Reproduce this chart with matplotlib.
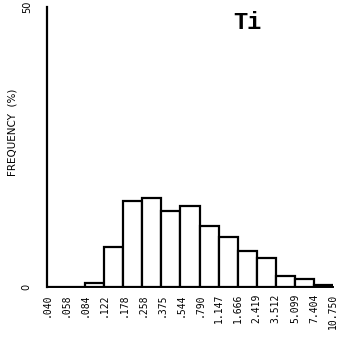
import matplotlib
matplotlib.use("Agg")
import matplotlib.pyplot as plt
import numpy as np

# bin edges (class limits) and frequencies in percent
edges = [0.040, 0.058, 0.084, 0.122, 0.178, 0.258, 0.375, 0.544, 0.790,
         1.147, 1.666, 2.419, 3.512, 5.099, 7.404, 10.750]
edge_labels = ['.040', '.058', '.084', '.122', '.178', '.258', '.375', '.544',
               '.790', '1.147', '1.666', '2.419', '3.512', '5.099', '7.404',
               '10.750']
freq = [0.0, 0.0, 0.8, 7.1, 15.4, 15.8, 13.5, 14.5, 10.8, 9.0, 6.4, 5.1,
        2.0, 1.4, 0.4]
element = 'Ti'

fig = plt.figure(figsize=(3.39, 3.37), dpi=100)
ax = fig.add_axes([0.1386, 0.1484, 0.8437, 0.831])

e = np.array(edges)
ax.bar(e[:-1], freq, width=np.diff(e), align='edge',
       facecolor='white', edgecolor='black', linewidth=1.6)

ax.set_xscale('log')
ax.set_xlim(edges[0], edges[-1])
ax.set_ylim(0, 50)
ax.minorticks_off()
ax.set_xticks(edges)
ax.set_xticklabels(edge_labels, rotation=90, fontsize=7, va='top',
                   family='DejaVu Sans Mono')
ax.set_yticks([0, 50])
ax.set_yticklabels(['0', '50'], fontsize=7, rotation=90, va='center')
ax.tick_params(axis='x', length=0, pad=5)
ax.tick_params(axis='y', length=0, pad=11)

ax.spines['top'].set_visible(False)
ax.spines['right'].set_visible(False)
ax.spines['left'].set_linewidth(1.6)
ax.spines['bottom'].set_linewidth(1.4)

fig.text(13 / 339, 1 - 132 / 337, 'FREQUENCY  (%)', fontsize=7.5,
         rotation=90, ha='center', va='center')

ax.text(0.701, 0.945, element, transform=ax.transAxes, fontsize=17,
        family='Liberation Mono', fontweight='bold', ha='center', va='center')

fig.savefig('out.png', dpi=100)
